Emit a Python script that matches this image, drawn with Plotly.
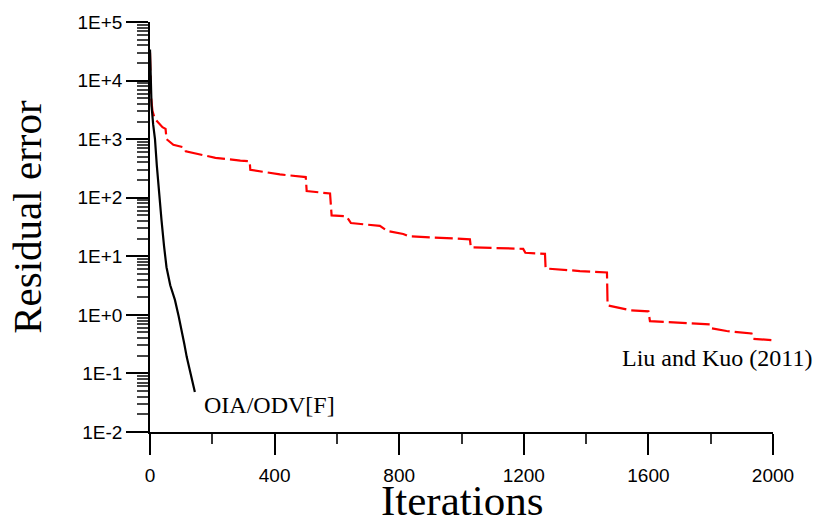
import plotly.graph_objects as go

# Data
oia_iter = [0, 2, 5, 10, 16, 22, 27, 32, 37, 45, 53, 65, 80, 92, 102, 110, 118, 130, 144]
oia_err = [34000, 10000, 3700, 1800, 1000, 350, 150, 75, 41, 15, 6.5, 3.2, 1.8, 0.95, 0.55, 0.32, 0.19, 0.10, 0.048]

lk_iter = [0, 1, 3, 8, 16, 40, 50, 53, 75, 110, 115, 180, 210, 290, 320, 322, 417, 500, 503, 578, 583,
           631, 645, 738, 762, 813, 830, 1027, 1030, 1198, 1205, 1268, 1270, 1380, 1467, 1469, 1541,
           1600, 1605, 1798, 1803, 1851, 1931, 1935, 2000]
lk_err = [30000, 8000, 5500, 3000, 2200, 1600, 1500, 1000, 800, 720, 620, 520, 480, 430, 420, 300, 250,
          225, 130, 118, 50, 48, 37, 33, 27, 24, 22, 19.5, 14.2, 13.4, 11.5, 11, 6.2, 5.6, 5.3, 1.45, 1.2,
          1.15, 0.78, 0.69, 0.59, 0.53, 0.48, 0.39, 0.37]

x_ticks = [0, 400, 800, 1200, 1600, 2000]
y_ticks = [1e-2, 1e-1, 1e0, 1e1, 1e2, 1e3, 1e4, 1e5]
y_ticktext = ["1E-2", "1E-1", "1E+0", "1E+1", "1E+2", "1E+3", "1E+4", "1E+5"]
y_minor = [m * 10 ** e for e in range(-2, 5) for m in range(2, 10)]

fig = go.Figure()
fig.add_trace(go.Scatter(x=lk_iter, y=lk_err, mode="lines",
                         line=dict(color="#ff0000", width=2.2, dash="18px,5px"), showlegend=False))
fig.add_trace(go.Scatter(x=oia_iter, y=oia_err, mode="lines",
                         line=dict(color="#000000", width=2.2), showlegend=False))

fig.update_layout(
    width=813, height=523,
    margin=dict(l=150, r=40, t=15, b=91),
    plot_bgcolor="white", paper_bgcolor="white",
    showlegend=False,
    xaxis=dict(range=[0, 2000], tickvals=x_ticks, ticks="outside", ticklen=21, tickwidth=1.5,
               tickcolor="black", showline=True, linecolor="black", linewidth=1.5,
               showgrid=False, zeroline=False, ticklabelstandoff=4,
               tickfont=dict(family="Liberation Sans, Arial", size=19, color="black"),
               minor=dict(dtick=200, ticks="outside", ticklen=10, tickwidth=1.5, tickcolor="#333")),
    yaxis=dict(type="log", range=[-2, 5], tickvals=y_ticks, ticktext=y_ticktext,
               ticks="outside", ticklen=22, tickwidth=1.5, tickcolor="black",
               showline=True, linecolor="black", linewidth=1.5, showgrid=False, zeroline=False,
               tickfont=dict(family="Liberation Sans, Arial", size=19, color="black"),
               minor=dict(tickmode="array", tickvals=y_minor, ticks="outside", ticklen=11,
                          tickwidth=1.5, tickcolor="#444")),
    annotations=[
        dict(text="Iterations", xref="paper", yref="paper", x=0.5008, y=-0.168,
             xanchor="center", yanchor="middle", showarrow=False,
             font=dict(family="Liberation Serif", size=43, color="black")),
        dict(text="Residual error", xref="paper", yref="paper", x=-0.1974, y=0.525,
             xanchor="center", yanchor="middle", showarrow=False, textangle=-90,
             font=dict(family="Liberation Serif", size=41, color="black")),
        dict(text="OIA/ODV[F]", xref="x", yref="y", x=167, y=-1.547,
             xanchor="left", yanchor="middle", showarrow=False,
             font=dict(family="Liberation Serif", size=24, color="black")),
        dict(text="Liu and Kuo (2011)", xref="x", yref="y", x=1509, y=-0.742,
             xanchor="left", yanchor="middle", showarrow=False,
             font=dict(family="Liberation Serif", size=24, color="black")),
    ],
)

fig.write_html("out.html")
